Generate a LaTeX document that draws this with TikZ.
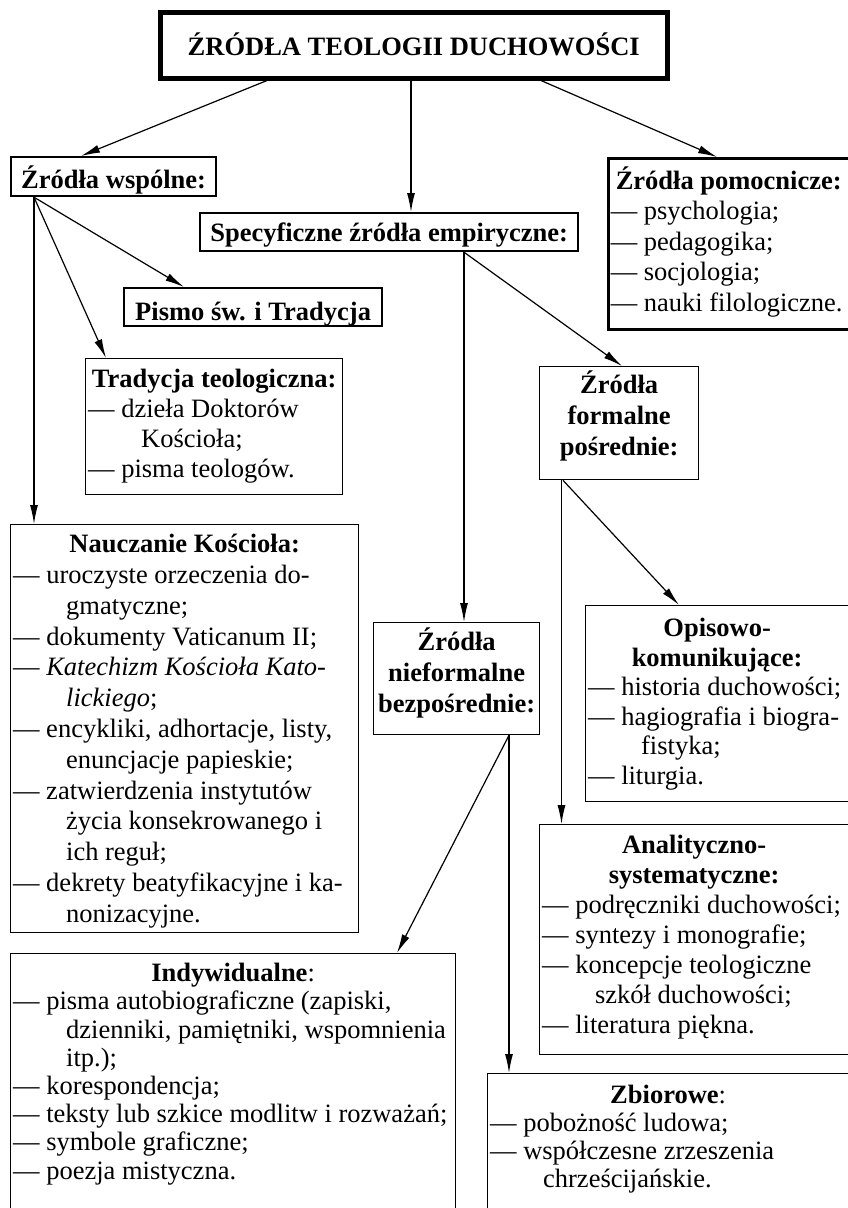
\documentclass[tikz,border=0pt]{standalone}
\usepackage{fontspec}
\setmainfont{Liberation Serif}
\usetikzlibrary{arrows.meta}
% box content: #1 width, #2 height, #3 first baseline offset, #4 baselineskip, #5 content
\newcommand\bxt[5]{\parbox[c][#2pt][t]{#1pt}{\fontsize{26.5pt}{#4pt}\selectfont\lineskiplimit=-100pt\relax\parindent=0pt\relax\def\firststrut{\rule{0pt}{#3pt}}#5}}
\newcommand\Hd[1]{{\centering\bfseries\firststrut #1\par}}
\newcommand\Li[1]{\par\noindent\mbox{#1}}
\newcommand\Lc[1]{\par\noindent\hspace*{53pt}\mbox{#1}}
\tikzset{
  bx/.style={draw, line width=1.3pt, inner xsep=2.5pt, inner ysep=0pt, anchor=north west},
  bxthick/.style={bx, line width=2.2pt},
  bxtitle/.style={bx, line width=4.5pt},
  arr/.style={draw, line width=1.2pt, -{Latex[length=19pt,width=8pt]}}
}
\begin{document}
\begin{tikzpicture}[x=1pt,y=1pt]
\useasboundingbox (0,0) rectangle (848,-1208);
\fill[white] (0,0) rectangle (848,-1208);

\node[bxtitle] (title) at (158,-10) {\bxt{502}{66}{43}{30}{\Hd{ŹRÓDŁA TEOLOGII DUCHOWOŚCI}}};
\node[bxthick] (wsp) at (10,-156) {\bxt{200}{39}{31}{30}{\Hd{Źródła wspólne:}}};
\node[bxthick] (spec) at (199,-212) {\bxt{373}{38}{28}{30}{\Hd{Specyficzne źródła empiryczne:}}};
\node[bxthick] (pismo) at (123,-287) {\bxt{253}{38}{32}{30}{\Hd{Pismo św. i Tradycja}}};
\node[bx, line width=2.5pt] (pom) at (607,-157) {\bxt{236}{171}{31}{30.5}{%
  \Hd{Źródła pomocnicze:}
  \Li{— psychologia;}
  \Li{— pedagogika;}
  \Li{— socjologia;}
  \Li{— nauki filologiczne.}}};
\node[bx] (trad) at (85,-358) {\bxt{252}{136}{29}{30}{%
  \Hd{Tradycja teologiczna:}
  \Li{— dzieła Doktorów}
  \Lc{Kościoła;}
  \Li{— pisma teologów.}}};
\node[bx] (form) at (539,-366) {\bxt{154}{113}{27}{31}{%
  \Hd{Źródła\\formalne\\pośrednie:}}};
\node[bx] (naucz) at (10,-524) {\bxt{343}{408}{28}{30.8}{%
  \Hd{Nauczanie Kościoła:}
  \Li{— uroczyste orzeczenia do-}
  \Lc{gmatyczne;}
  \Li{— dokumenty Vaticanum II;}
  \Li{— \textit{Katechizm Kościoła Kato-}}
  \Lc{\textit{lickiego};}
  \Li{— encykliki, adhortacje, listy,}
  \Lc{enuncjacje papieskie;}
  \Li{— zatwierdzenia instytutów}
  \Lc{życia konsekrowanego i}
  \Lc{ich reguł;}
  \Li{— dekrety beatyfikacyjne i ka-}
  \Lc{nonizacyjne.}}};
\node[bx] (nieform) at (373,-622) {\bxt{161}{112}{28}{31}{%
  \Hd{Źródła\\nieformalne\\bezpośrednie:}}};
\node[bx] (opis) at (585,-605) {\bxt{258}{196}{31}{29.5}{%
  \Hd{Opisowo-\\komunikujące:}
  \Li{— historia duchowości;}
  \Li{— hagiografia i biogra-}
  \Lc{fistyka;}
  \Li{— liturgia.}}};
\node[bx] (anal) at (539,-824) {\bxt{304}{230}{29}{30}{%
  \Hd{Analityczno-\\systematyczne:}
  \Li{— podręczniki duchowości;}
  \Li{— syntezy i monografie;}
  \Li{— koncepcje teologiczne}
  \Lc{szkół duchowości;}
  \Li{— literatura piękna.}}};
\node[bx] (indyw) at (10,-953) {\bxt{440}{270}{28}{28.2}{%
  \Hd{Indywidualne\mdseries:}
  \Li{— pisma autobiograficzne (zapiski,}
  \Lc{dzienniki, pamiętniki, wspomnienia}
  \Lc{itp.);}
  \Li{— korespondencja;}
  \Li{— teksty lub szkice modlitw i rozważań;}
  \Li{— symbole graficzne;}
  \Li{— poezja mistyczna.}}};
\node[bx] (zbior) at (487,-1073) {\bxt{356}{150}{30}{28}{%
  \Hd{Zbiorowe\mdseries:}
  \Li{— pobożność ludowa;}
  \Li{— współczesne zrzeszenia}
  \Lc{chrześcijańskie.}}};

\draw[arr] ([xshift=109pt]title.south west) -- ([xshift=71pt]wsp.north west);
\draw[arr] ([xshift=253pt]title.south west) -- ([xshift=212pt]spec.north west);
\draw[arr] ([xshift=383pt]title.south west) -- ([xshift=110pt]pom.north west);
\draw[arr] ([xshift=24pt]wsp.south west) -- ([xshift=61pt]pismo.north west);
\draw[arr] ([xshift=24pt]wsp.south west) -- ([xshift=21pt]trad.north west);
\draw[arr] ([xshift=24pt]wsp.south west) -- ([xshift=24pt]naucz.north west);
\draw[arr] ([xshift=265pt]spec.south west) -- ([xshift=91pt]nieform.north west);
\draw[arr] ([xshift=265pt]spec.south west) -- ([xshift=83pt]form.north west);
\draw[arr] ([xshift=24pt]form.south west) -- ([xshift=94pt]opis.north west);
\draw[arr] ([xshift=22.5pt]form.south west) -- ([xshift=22.5pt]anal.north west);
\draw[arr] ([xshift=136pt]nieform.south west) -- ([xshift=387pt]indyw.north west);
\draw[arr] ([xshift=136pt]nieform.south west) -- ([xshift=22pt]zbior.north west);
\end{tikzpicture}
\end{document}
